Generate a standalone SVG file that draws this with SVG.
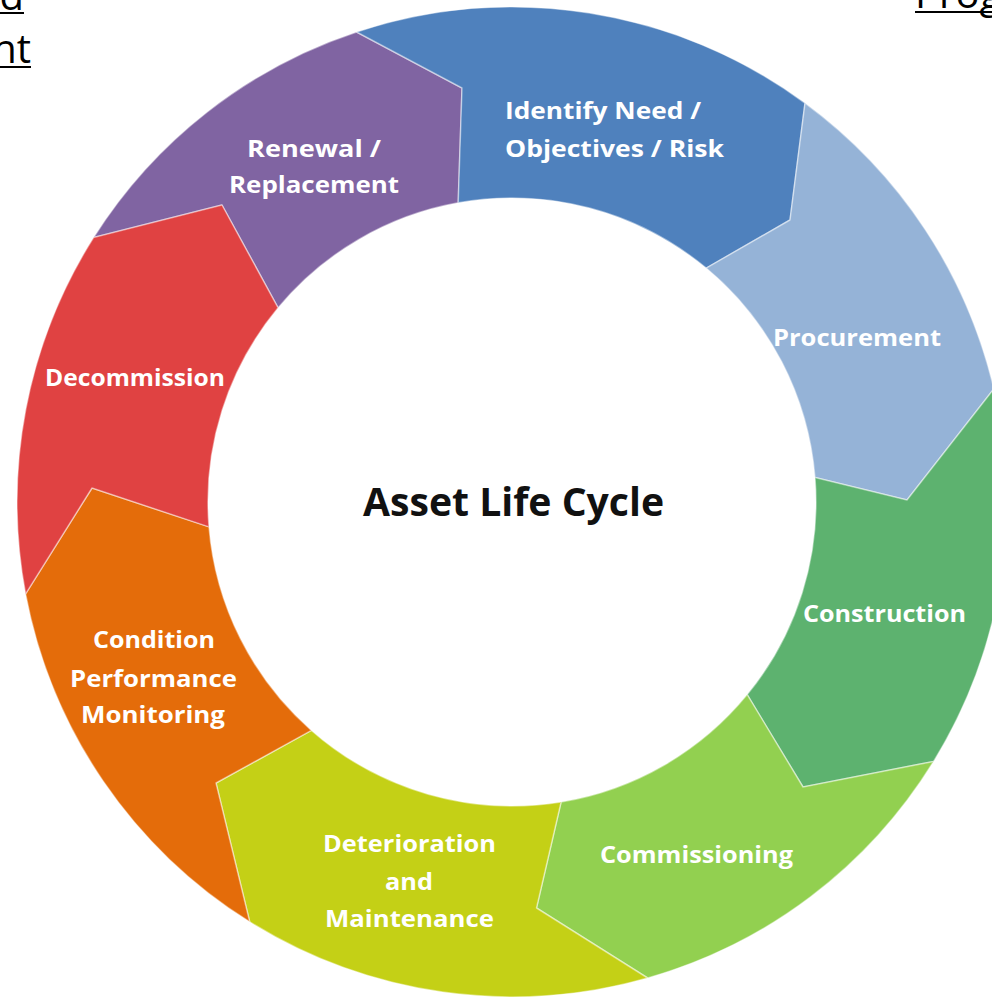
<svg xmlns="http://www.w3.org/2000/svg" width="992" height="998" viewBox="0 0 992 998">
<style>
.seg{stroke:#ffffff;stroke-opacity:0.45;stroke-width:1.5;stroke-linejoin:round}
.lbl{font-family:"Open Sans","Liberation Sans",sans-serif;font-weight:700;font-size:23px;fill:#ffffff}
.ctr{font-family:"Open Sans","Liberation Sans",sans-serif;font-weight:700;font-size:40px;fill:#111111}
.lnk{font-family:"Open Sans","Liberation Sans",sans-serif;font-size:40px;fill:#000000}
.ul{stroke:#000000;stroke-width:2}
</style>
<rect x="0" y="0" width="992" height="998" fill="#ffffff"/>
<g id="links">
<text class="lnk" x="24" y="10" text-anchor="end">d</text>
<line class="ul" x1="0" y1="13" x2="24" y2="13"/>
<text class="lnk" x="31" y="63" text-anchor="end">nt</text>
<line class="ul" x1="0" y1="67" x2="31" y2="67"/>
<text class="lnk" x="915" y="8">Prog</text>
<line class="ul" x1="915" y1="12" x2="992" y2="12"/>
</g>
<g id="segments">
<g id="renewal">
<path class="seg" fill="#8064a2" d="M93.6,237.5 A495,495 0 0 1 356.6,32 L462,88 L458.2,202.8 A304,304 0 0 0 278.1,307.8 L222,205 Z"/>
<text class="lbl" x="314" y="157" text-anchor="middle" textLength="134" lengthAdjust="spacingAndGlyphs">Renewal /</text>
<text class="lbl" x="314" y="193" text-anchor="middle" textLength="170" lengthAdjust="spacingAndGlyphs">Replacement</text>
</g>
<g id="identify">
<path class="seg" fill="#4f81bd" d="M356.6,32 A495,495 0 0 1 805,103.1 L790,220 L706.2,268.1 A304,304 0 0 0 458.2,202.8 L462,88 Z"/>
<text class="lbl" x="505" y="119" textLength="196" lengthAdjust="spacingAndGlyphs">Identify Need /</text>
<text class="lbl" x="505" y="157" textLength="219" lengthAdjust="spacingAndGlyphs">Objectives / Risk</text>
</g>
<g id="procurement">
<path class="seg" fill="#95b3d7" d="M805,103.1 A495,495 0 0 1 993.9,388.9 L907,500 L815,477.6 A304,304 0 0 0 706.2,268.1 L790,220 Z"/>
<text class="lbl" x="857" y="346" text-anchor="middle" textLength="168" lengthAdjust="spacingAndGlyphs">Procurement</text>
</g>
<g id="construction">
<path class="seg" fill="#5db26f" d="M993.9,388.9 A495,495 0 0 1 933.6,761.4 L803,787 L747.2,694.6 A304,304 0 0 0 815,477.6 L907,500 Z"/>
<text class="lbl" x="884.5" y="622" text-anchor="middle" textLength="163" lengthAdjust="spacingAndGlyphs">Construction</text>
</g>
<g id="commissioning">
<path class="seg" fill="#92d050" d="M933.6,761.4 A495,495 0 0 1 647.6,978 L536.5,908 L561.1,802 A304,304 0 0 0 747.2,694.6 L803,787 Z"/>
<text class="lbl" x="696.5" y="863" text-anchor="middle" textLength="193" lengthAdjust="spacingAndGlyphs">Commissioning</text>
</g>
<g id="deterioration">
<path class="seg" fill="#c4d016" d="M647.6,978 A495,495 0 0 1 249.7,921.8 L216,783 L311.4,730.4 A304,304 0 0 0 561.1,802 L536.5,908 Z"/>
<text class="lbl" x="409.5" y="852" text-anchor="middle" textLength="173" lengthAdjust="spacingAndGlyphs">Deterioration</text>
<text class="lbl" x="409" y="890" text-anchor="middle" textLength="48" lengthAdjust="spacingAndGlyphs">and</text>
<text class="lbl" x="409.5" y="927" text-anchor="middle" textLength="169" lengthAdjust="spacingAndGlyphs">Maintenance</text>
</g>
<g id="condition">
<path class="seg" fill="#e46c0a" d="M249.7,921.8 A495,495 0 0 1 25.6,593.9 L92,488 L209,526.9 A304,304 0 0 0 311.4,730.4 L216,783 Z"/>
<text class="lbl" x="154" y="648" text-anchor="middle" textLength="122" lengthAdjust="spacingAndGlyphs">Condition</text>
<text class="lbl" x="153.5" y="687" text-anchor="middle" textLength="167" lengthAdjust="spacingAndGlyphs">Performance</text>
<text class="lbl" x="153" y="723" text-anchor="middle" textLength="144" lengthAdjust="spacingAndGlyphs">Monitoring</text>
</g>
<g id="decommission">
<path class="seg" fill="#e04242" d="M25.6,593.9 A495,495 0 0 1 93.6,237.5 L222,205 L278.1,307.8 A304,304 0 0 0 209,526.9 L92,488 Z"/>
<text class="lbl" x="135" y="386" text-anchor="middle" textLength="180" lengthAdjust="spacingAndGlyphs">Decommission</text>
</g>
</g>
<g id="center">
<text class="ctr" x="513.5" y="516" text-anchor="middle" textLength="301" lengthAdjust="spacingAndGlyphs">Asset Life Cycle</text>
</g>
</svg>
